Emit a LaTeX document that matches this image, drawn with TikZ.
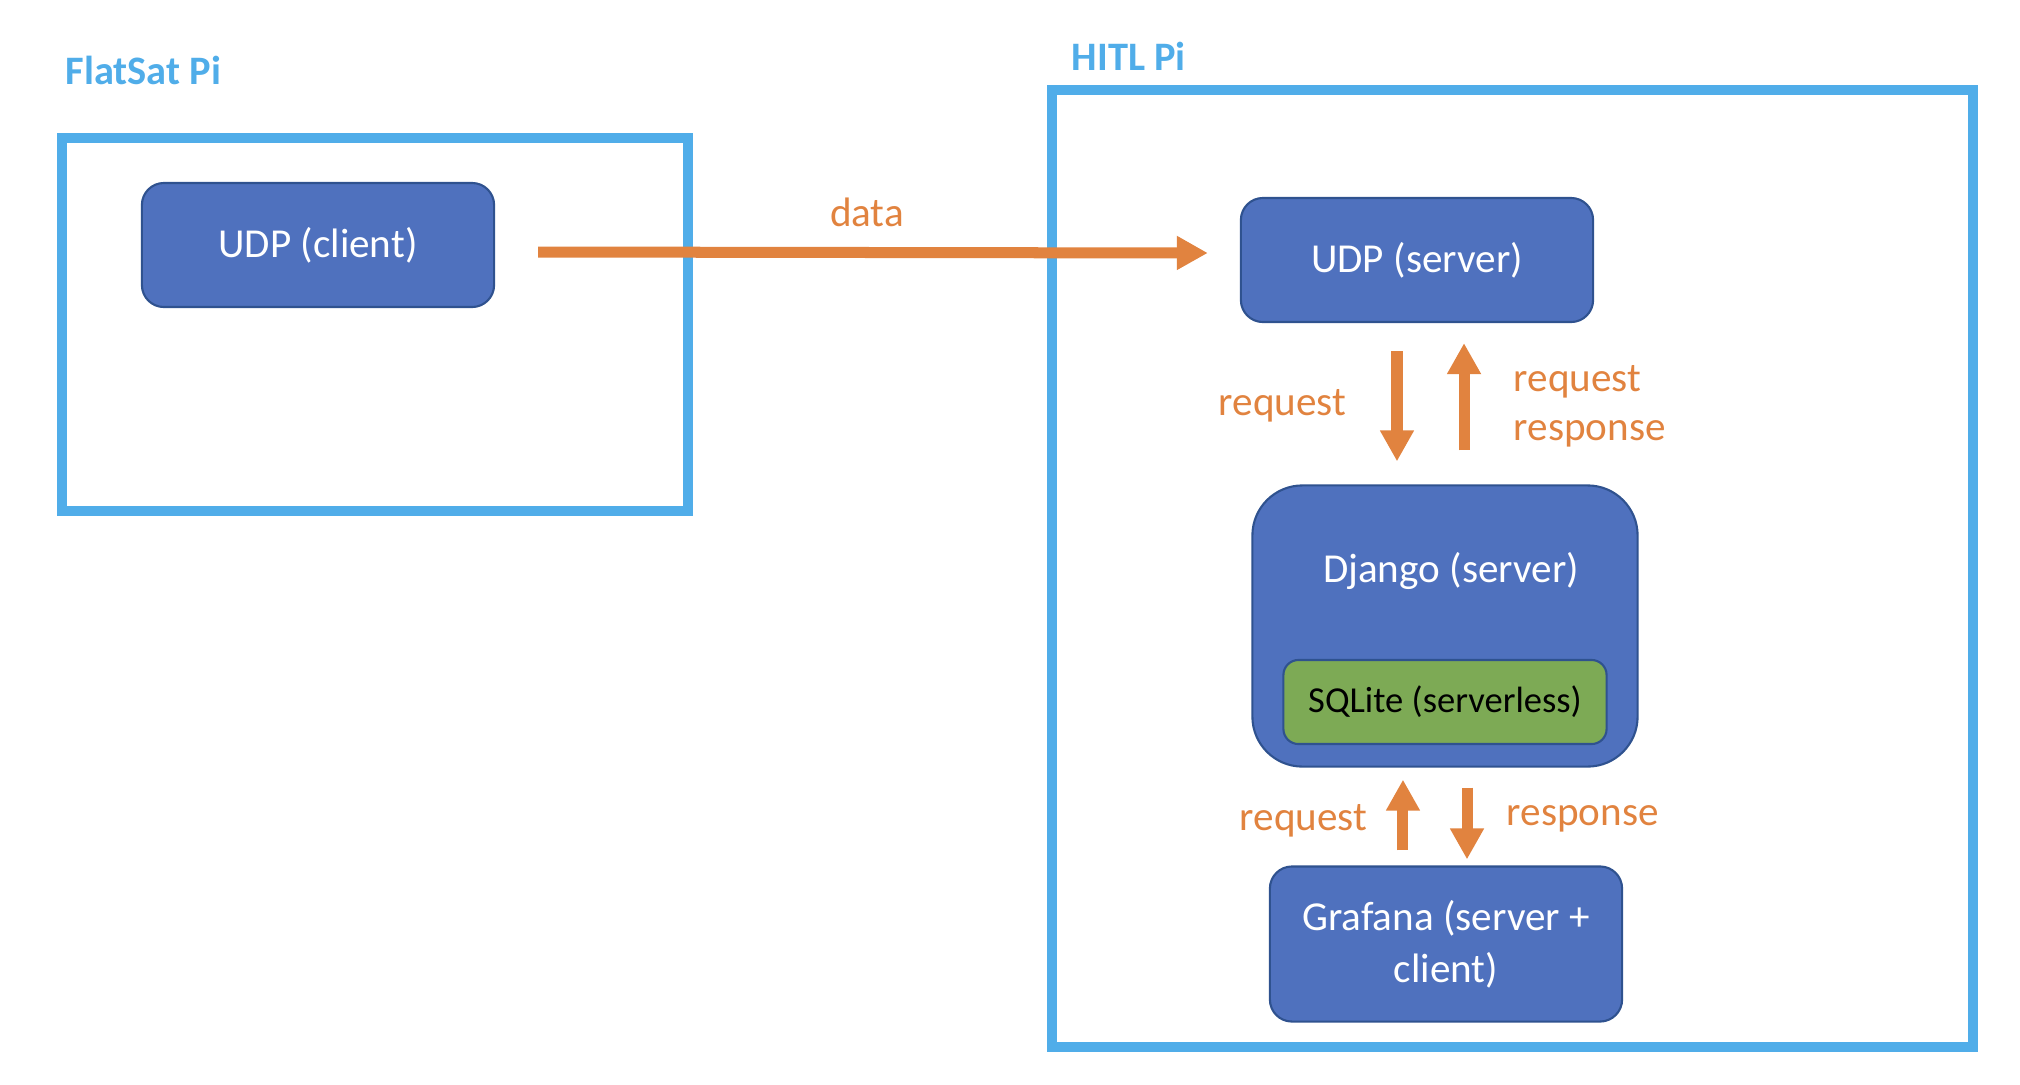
\documentclass[tikz,border=0pt]{standalone}
\usepackage{fontspec}
\setmainfont{Carlito}
\usetikzlibrary{arrows.meta}
\definecolor{frameblue}{HTML}{50ADE9}
\definecolor{boxblue}{HTML}{4F71BE}
\definecolor{boxedge}{HTML}{2F528F}
\definecolor{flowor}{HTML}{E1833F}
\definecolor{dbgreen}{HTML}{7DAA55}
\begin{document}
\begin{tikzpicture}[x=0.01cm, y=-0.01cm,
    frame/.style={draw=frameblue, line width=0.1cm},
    box/.style={draw=boxedge, fill=boxblue, line width=0.6pt, rounded corners=0.22cm, text=white,
      font=\fontsize{11.7}{14.7}\selectfont, align=center, minimum width=3.52cm, minimum height=1.24cm},
    flow/.style={draw=flowor, line width=0.11cm, -{Triangle[length=0.31cm, width=0.32cm]}},
    lbl/.style={text=flowor, font=\fontsize{11.7}{13.9}\selectfont, inner sep=0pt},
    title/.style={text=frameblue, font=\fontsize{11.5}{14}\selectfont\bfseries, inner sep=0pt}]
  \useasboundingbox (0,0) rectangle (2020,1084);

  % the two Pis
  \draw[frame] (62,138) rectangle (688,511);
  \draw[frame] (1052,90) rectangle (1973,1047);
  \node[title, anchor=base west] (flatsat) at (65,84) {FlatSat Pi};
  \node[title, anchor=base west] (hitl) at (1071,70) {HITL Pi};

  \node[box] (udpc) at (318,245) {UDP (client)};
  \node[box] (udps) at (1417,260) {UDP (server)};
  \node[box, minimum width=3.85cm, minimum height=2.81cm, rounded corners=0.5cm] (django) at (1445,626) {};
  \node[text=white, font=\fontsize{11.7}{14}\selectfont, anchor=base] (djangolbl) at (1451,582) {Django (server)};
  \node[box, fill=dbgreen, text=black, minimum width=3.23cm, minimum height=0.84cm, rounded corners=0.15cm,
    font=\fontsize{10.4}{12}\selectfont] (sqlite) at (1445,702) {SQLite (serverless)};
  \node[box, minimum height=1.55cm] (grafana) at (1446,944) {Grafana (server +\\client)};

  % connectors
  \draw[flow] ([xshift=0.43cm, yshift=-0.07cm]udpc.east) -- ([xshift=-0.32cm, yshift=0.07cm]udps.west)
    node[lbl, midway, above=0.2cm, xshift=-0.06cm] (datalbl) {data};
  \draw[flow, shorten <=0.28cm, shorten >=0.23cm] ([xshift=-0.20cm]udps.south) -- ([xshift=-0.20cm]udps.south |- django.north);
  \draw[flow, shorten <=0.34cm, shorten >=0.20cm] ([xshift=0.47cm]udps.south |- django.north) -- ([xshift=0.47cm]udps.south);
  \draw[flow, shorten <=0.15cm, shorten >=0.12cm] ([xshift=-0.43cm]grafana.north) -- ([xshift=-0.43cm]grafana.north |- django.south);
  \draw[flow, shorten <=0.20cm, shorten >=0.06cm] ([xshift=0.21cm]grafana.north |- django.south) -- ([xshift=0.21cm]grafana.north);

  \node[lbl, anchor=base east] (reqa) at (1347,415) {request};
  \node[lbl, anchor=base west, align=left] (reqb) at (1513,440) {request\\response};
  \node[lbl, anchor=base east] (reqc) at (1368,830) {request};
  \node[lbl, anchor=base west] (resc) at (1506,825) {response};
\end{tikzpicture}
\end{document}
